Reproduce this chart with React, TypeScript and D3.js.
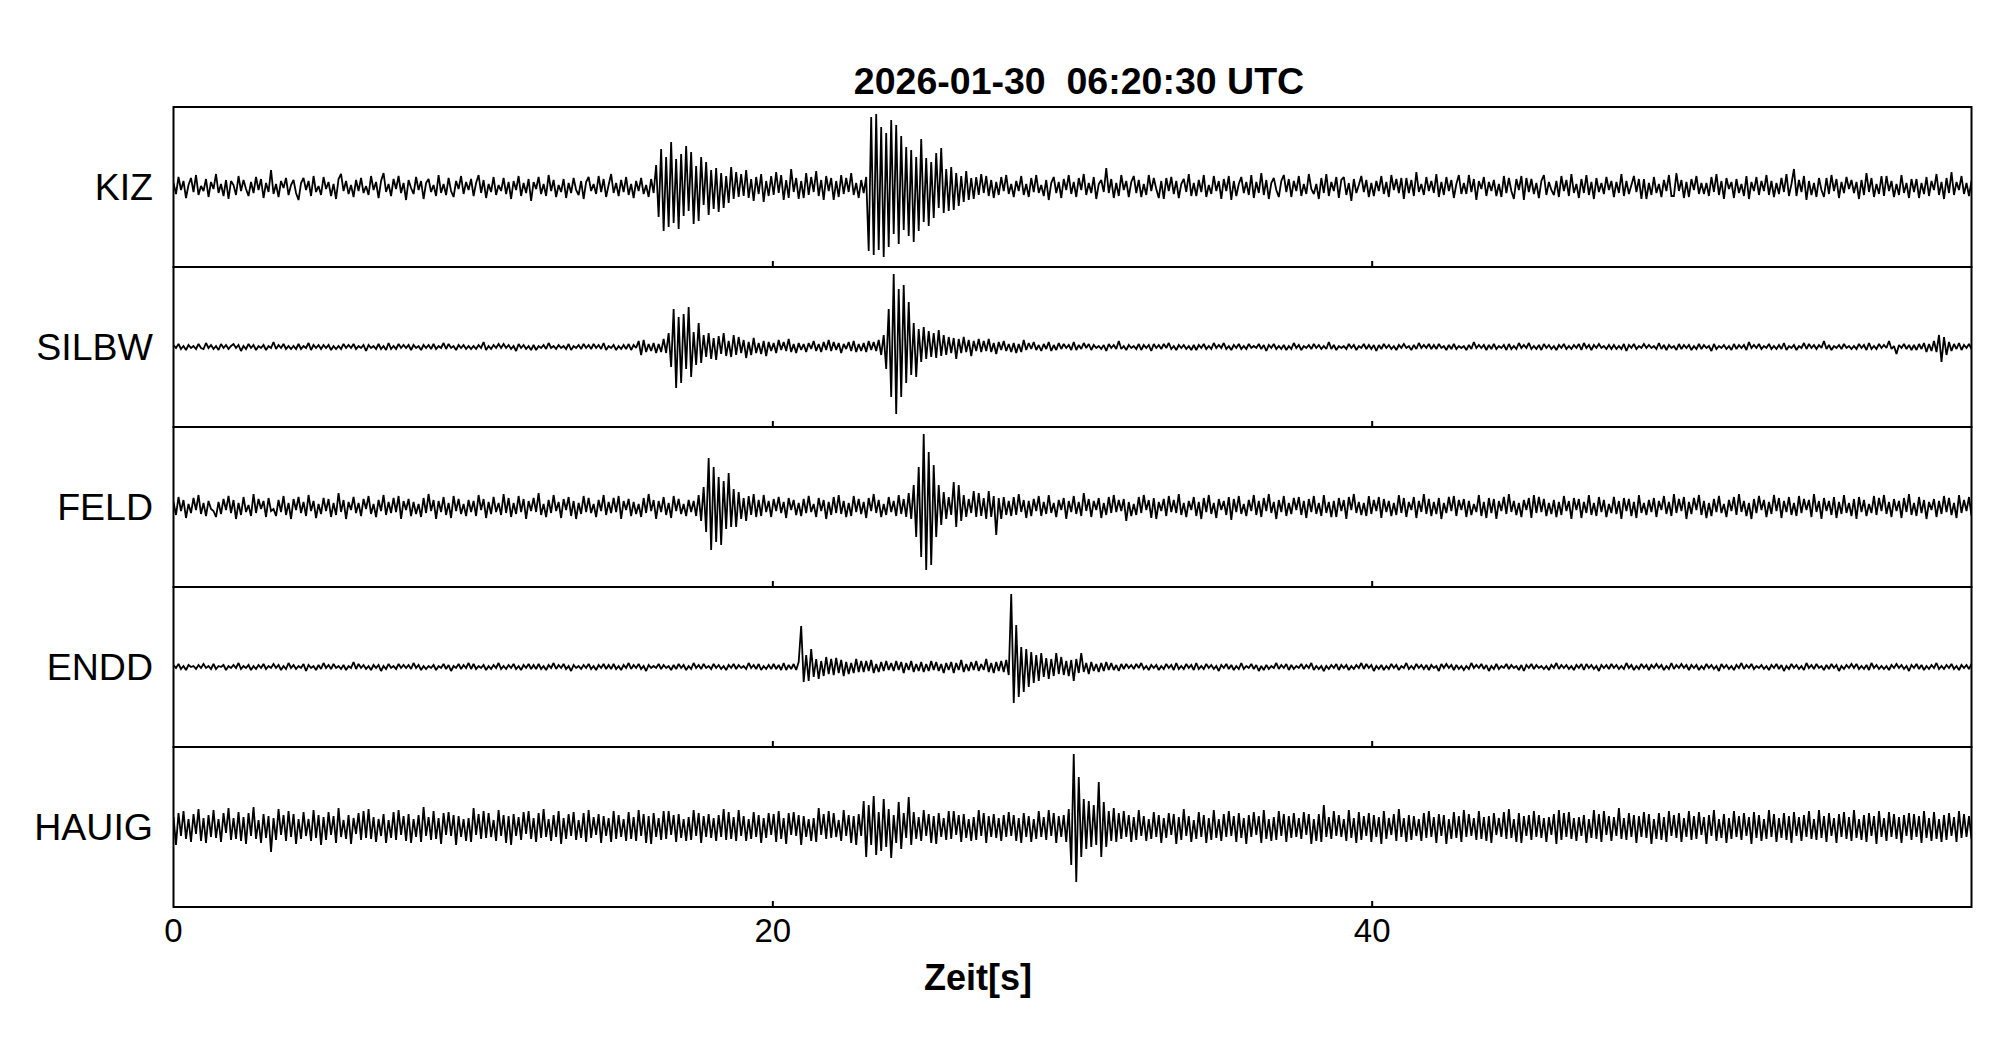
import React from 'react';
import * as d3 from 'd3';

const TITLE = '2026-01-30  06:20:30 UTC';
const X_LABEL = 'Zeit[s]';
const STATIONS = ['KIZ', 'SILBW', 'FELD', 'ENDD', 'HAUIG'];
const X_TICKS = [0, 20, 40];
const X_DOMAIN: [number, number] = [0, 60];
const AMP_DOMAIN: [number, number] = [-80, 80];

// 12 samples per second, 60 s per trace (one row = 2 s)
const KIZ = [
  4,-7,10,-3,6,-11,2,9,-5,12,-8,1, -4,8,-10,5,-2,13,-6,3,-9,7,-12,6,
  2,-8,11,-4,7,-2,-9,5,-6,10,-3,8, -11,4,-5,17,-7,3,-10,6,-1,9,-8,2,
  7,-6,-13,4,9,-3,6,-9,11,-5,1,-8, 10,-2,5,-9,3,-12,8,13,-4,6,-7,2,
  -10,7,-4,9,-6,1,-8,11,-3,5,-11,6, 14,-5,3,-9,8,-2,11,-6,4,-13,7,-1,
  -7,10,-3,6,-12,4,8,-5,2,-9,12,-6, 3,-8,9,-4,-10,6,-2,11,-7,5,-3,8,
  -9,4,12,-6,7,-11,3,-5,10,-8,2,-4, 9,-7,5,-12,6,-3,11,-9,4,-6,8,-14,
  5,-2,10,-7,3,-9,12,-4,7,-10,2,-5, 8,-11,4,-6,9,-3,-8,6,-12,5,10,-4,
  3,-7,11,-5,8,-10,2,13,-6,4,-9,7, -5,10,-8,3,-11,6,-4,9,-7,2,-10,8,
  -6,22,-30,38,-44,30,-40,45,-36,28,-42,33, -29,41,-24,35,-37,21,-34,30,-18,25,-28,17,
  -22,19,-25,14,-21,11,-16,20,-12,15,-10,13, -9,17,-11,8,-14,10,-7,13,-15,6,-9,11,
  -8,15,-6,12,-13,7,-11,18,-5,9,-12,6, -11,14,-8,10,-5,16,-9,7,-13,11,-4,9,
  -13,6,-10,12,-7,9,-5,14,-8,4,-11,7, -6,10,-64,70,-68,73,-63,60,-70,54,-60,67,
  -47,62,-57,51,-43,40,-49,37,-55,30,-44,48, -35,29,-39,25,-31,34,-21,39,-26,18,-24,20,
  -23,14,-19,11,-15,16,-13,9,-12,10,-8,13, -6,11,-9,7,-11,5,-8,10,-4,12,-7,3,
  -10,6,-4,11,-8,3,-10,9,-5,12,-6,2, -9,7,-13,4,10,-6,5,-11,8,-3,12,-7,
  5,-10,9,-3,13,-8,4,-6,10,-12,3,7, -5,19,-6,8,-11,4,-9,12,-3,6,-10,5,
  11,-6,7,-10,3,-8,12,-4,9,-2,-11,6, -12,9,-4,10,-7,6,-11,3,8,-5,13,-9,
  4,-9,7,-5,12,-10,2,-7,11,-4,6,-12, 8,-4,11,-13,6,-9,3,10,-6,5,-8,12,
  -11,5,-6,14,-8,7,-12,4,9,-3,-10,6, 12,-5,8,-10,6,-4,11,-9,3,-7,13,-2,
  -7,3,-12,9,-6,13,-9,5,-4,10,-11,7, 10,-8,4,-14,8,-6,2,11,-5,7,-10,4,
  -9,6,-4,11,-7,5,-10,12,-3,8,-6,9, -12,9,-6,7,-9,15,-5,3,-8,10,-4,6,
  -6,13,-10,5,-8,10,-4,7,-11,3,12,-7, 4,-7,12,-5,8,-13,6,-2,10,-9,5,-4,
  7,-9,3,-10,11,-6,9,-4,-12,8,-3,11, -13,9,-5,8,-7,4,-11,6,12,-8,5,-3,
  -8,6,-10,11,-4,7,-9,13,-6,3,-11,8, -6,12,-8,5,-12,9,-5,4,-7,10,-3,6,
  -10,5,-6,13,-9,6,-7,2,11,-5,8,-12, 8,-12,4,-8,10,-6,3,-10,7,-4,12,-9,
  -9,14,-4,7,-11,5,-10,8,-3,11,-7,4, -7,4,-9,10,-5,13,-8,6,-12,9,-2,5,
  -11,8,-6,3,-9,11,-12,5,-4,10,-8,6, -4,12,-8,6,-10,4,-7,9,-5,13,-9,3,
  18,-9,7,-5,11,-13,6,-8,4,-10,9,-3, -10,9,-7,12,-4,8,-11,5,-6,10,-2,7,
  -6,5,-12,7,-8,14,-5,9,-10,3,-7,11, -9,11,-4,6,-10,3,-8,12,-6,4,-11,8,
  -5,8,-11,4,-7,10,-9,6,-3,13,-8,5, -12,9,-6,15,-8,5,-3,11,-7,4,-9,6,
];

const SILBW = [
  2,-1,3,-2,1,-3,2,-1,1,-2,3,-1, -2,4,-1,2,-2,1,-3,3,-1,2,-2,1,
  3,-1,2,-4,1,-2,3,-1,2,-3,1,-1, 2,-3,1,-1,5,-2,2,-1,3,-2,1,-2,
  1,-2,3,-2,1,-1,4,-3,2,-1,2,-2, 2,-1,2,-3,1,-2,1,-2,3,-1,2,-1,
  3,-2,1,-1,2,-4,2,-1,1,-2,3,-2, 1,-3,4,-2,1,-2,3,-1,2,-1,2,-3,
  2,-1,1,-3,2,-1,2,-2,3,-2,1,-1, 4,-2,3,-1,1,-3,2,-1,2,-2,1,-2,
  1,-2,2,-1,5,-3,1,-2,2,-1,3,-1, 3,-1,2,-2,1,-4,3,-1,2,-2,1,-3,
  2,-3,1,-1,2,-2,4,-1,1,-2,2,-1, 1,-2,3,-3,1,-1,2,-2,3,-1,2,-2,
  3,-1,2,-2,4,-3,1,-1,2,-3,1,-2, 2,-2,3,-3,2,-1,6,-8,7,-5,3,-4,
  4,-6,3,-5,8,-6,14,-20,38,-41,30,-36, 33,-22,40,-30,15,-18,24,-16,12,-10,14,-12,
  9,-13,11,-7,14,-9,6,-10,12,-8,10,-6, 7,-11,5,-8,9,-6,4,-7,6,-9,5,-4,
  4,-6,7,-3,5,-4,8,-5,3,-6,4,-3, 3,-5,4,-2,6,-4,3,-5,5,-3,7,-4,
  5,-3,4,-6,3,-2,5,-4,6,-5,3,-4, 4,-5,6,-3,5,-4,7,-8,12,-22,38,-50,
  73,-67,58,-50,62,-36,45,-28,24,-30,18,-15, 20,-12,16,-10,14,-11,17,-9,12,-8,10,-6,
  9,-12,8,-6,10,-5,7,-9,6,-4,8,-5, 6,-4,8,-5,4,-7,5,-3,6,-4,3,-5,
  4,-6,3,-5,7,-3,4,-2,5,-3,2,-4, 3,-2,5,-4,2,-3,4,-2,3,-1,2,-3,
  5,-3,2,-2,4,-1,3,-3,2,-1,1,-2, 2,-4,3,-1,2,-2,6,-2,1,-3,2,-1,
  1,-2,3,-3,2,-1,2,-4,3,-1,2,-2, 3,-1,4,-2,1,-3,2,-1,2,-2,1,-3,
  2,-3,2,-1,3,-2,1,-2,4,-1,2,-1, 4,-2,1,-3,2,-1,3,-2,1,-2,3,-1,
  1,-1,3,-2,2,-4,2,-1,3,-2,1,-2, 2,-3,1,-2,4,-1,2,-3,1,-1,2,-2,
  3,-1,2,-2,1,-2,5,-2,2,-3,1,-1, 1,-2,3,-1,2,-3,1,-1,3,-2,2,-2,
  2,-4,2,-2,3,-1,2,-2,1,-3,2,-1, 3,-1,1,-3,2,-2,4,-1,2,-1,3,-2,
  2,-2,3,-1,1,-3,2,-2,3,-2,1,-1, 1,-3,2,-2,5,-1,2,-1,2,-3,2,-2,
  3,-2,1,-1,2,-3,3,-2,1,-2,4,-1, 2,-1,4,-2,1,-2,2,-3,3,-1,2,-2,
  1,-3,2,-1,3,-2,1,-2,2,-1,3,-3, 4,-1,2,-3,2,-1,3,-1,1,-2,2,-2,
  2,-2,1,-2,3,-4,2,-1,3,-2,1,-1, 3,-1,2,-1,1,-2,4,-2,2,-3,2,-1,
  1,-3,3,-2,2,-1,2,-3,1,-2,3,-2, 2,-1,1,-4,3,-2,1,-1,2,-2,1,-3,
  3,-2,2,-1,2,-3,5,-1,2,-1,3,-2, 1,-1,3,-2,1,-2,2,-2,4,-3,1,-1,
  2,-3,1,-1,4,-2,3,-1,2,-2,2,-1, 6,-2,2,-3,1,-1,2,-2,3,-1,1,-2,
  1,-2,3,-1,2,-3,4,-2,1,-2,3,-1, 2,-1,6,-2,1,-7,2,-1,3,-2,2,-3,
  2,-3,3,-2,4,-5,3,-4,6,-5,12,-15, 10,-8,5,-4,3,-2,4,-3,2,-1,3,-2,
];

const FELD = [
  5,-8,10,-4,7,-11,3,-6,9,-3,12,-7, 4,-9,6,-2,-4,-10,5,-7,8,-3,11,-6,
  7,-12,4,-8,10,-5,2,-9,13,-6,8,-2, 6,-10,9,-4,-2,-9,7,-5,11,-8,4,-12,
  8,-3,10,-6,5,-9,12,-4,6,-11,3,-7, 9,-4,8,-10,4,-8,14,-5,7,-12,5,-3,
  10,-6,4,-9,8,-2,11,-7,3,-10,7,-4, 12,-8,5,-6,9,-5,11,-12,6,-3,8,-9,
  5,-7,3,-10,9,-6,13,-4,7,-12,6,-5, 10,-8,4,-11,11,-4,8,-7,3,-9,7,-5,
  6,-9,12,-3,8,-11,5,-7,10,-5,4,-8, 13,-6,9,-10,4,-7,11,-5,8,-12,6,-4,
  9,-5,14,-8,3,-10,7,-6,12,-4,5,-11, 8,-3,10,-9,6,-12,4,-7,11,-5,9,-6,
  3,-10,7,-4,12,-8,5,-6,9,-5,11,-12, 6,-3,8,-9,5,-7,3,-10,9,-6,13,-4,
  7,-12,6,-5,10,-8,4,-11,11,-4,8,-7, 3,-9,7,-5,6,-9,12,-14,20,-25,49,-43,
  40,-35,30,-38,26,-22,34,-20,18,-20,15,-12, 9,-14,11,-8,13,-10,7,-9,12,-5,6,-10,
  8,-4,10,-6,5,-11,9,-3,7,-8,4,-9, 8,-6,11,-5,3,-10,9,-4,7,-12,5,-8,
  10,-6,12,-7,6,-10,4,-9,11,-5,8,-7, 5,-11,9,-4,13,-6,7,-10,3,-8,10,-5,
  6,-9,12,-7,8,-10,14,-12,22,-30,40,-50, 73,-63,55,-58,42,-30,22,-18,15,-12,10,-8,
  25,-20,22,-14,12,-10,8,-6,16,-10,14,-9, 9,-12,16,-10,11,-28,9,-12,10,-8,6,-9,
  10,-8,13,-5,7,-11,6,-9,8,-4,11,-9, 5,-7,12,-6,4,-10,7,-3,9,-12,6,-5,
  11,-7,5,-9,14,-4,8,-10,6,-3,9,-11, 4,-8,10,-6,12,-5,7,-4,8,-14,5,-9,
  3,-8,10,-6,12,-3,7,-11,9,-12,5,-4, 8,-9,11,-5,7,-6,13,-8,4,-10,6,-3,
  10,-9,5,-12,9,-5,12,-7,4,-11,8,-3, 6,-8,10,-13,8,-5,11,-7,3,-9,7,-4,
  12,-8,6,-10,9,-4,13,-6,5,-12,7,-5, 11,-9,4,-7,9,-3,10,-8,6,-11,8,-5,
  11,-7,4,-9,12,-6,5,-10,6,-10,9,-4, 7,-12,10,-3,13,-6,5,-8,4,-9,11,-7,
  7,-4,10,-11,8,-5,6,-9,4,-8,12,-6, 9,-10,5,-3,10,-11,6,-5,13,-7,8,-9,
  5,-7,9,-12,4,-6,10,-4,11,-9,7,-3, 8,-10,6,-8,3,-5,12,-9,5,-11,9,-6,
  8,-12,6,-4,10,-7,13,-5,6,-8,4,-10, 7,-3,9,-11,12,-6,10,-5,8,-9,4,-7,
  7,-10,5,-8,11,-4,6,-12,9,-3,8,-11, 5,-6,12,-8,4,-9,10,-5,7,-10,3,-6,
  10,-7,6,-12,9,-4,8,-9,5,-11,12,-6, 4,-8,7,-5,9,-10,6,-3,11,-7,5,-9,
  13,-6,8,-4,10,-12,5,-7,9,-3,12,-8, 6,-11,4,-9,8,-5,11,-6,3,-10,7,-4,
  10,-8,13,-5,6,-9,4,-12,8,-6,11,-3, 7,-10,5,-7,12,-4,9,-11,6,-5,10,-8,
  4,-9,11,-6,8,-3,7,-10,13,-5,6,-12, 9,-4,6,-8,10,-11,5,-7,12,-6,4,-9,
  8,-12,10,-5,7,-9,3,-6,11,-8,9,-4, 12,-7,5,-10,8,-4,6,-11,9,-5,13,-8,
  4,-9,10,-6,7,-12,5,-3,8,-10,6,-7, 11,-5,9,-8,4,-11,12,-6,7,-4,10,-9,
];

const ENDD = [
  2,-1,3,-2,1,-3,2,0,1,-2,2,-1, 3,-1,1,-2,3,-2,1,0,2,-3,1,-1,
  2,-1,4,-2,1,-1,2,-3,1,-2,2,-1, 3,-2,1,-1,3,-1,2,-3,1,-2,4,-1,
  2,-2,1,-1,3,-4,2,-1,1,-3,2,-2, 4,-1,2,-2,3,-1,1,-2,2,-3,1,-1,
  5,-2,3,-1,2,-2,1,-3,2,-1,2,-4, 1,-2,3,-1,1,-2,3,-1,2,-1,2,-2,
  4,-1,2,-3,1,-2,1,-1,2,-3,1,-1, 3,-2,2,-4,1,-1,3,-2,2,-1,4,-2,
  3,-2,1,-1,2,-3,1,-2,2,-1,4,-2, 1,-2,2,-1,3,-2,1,-3,2,-1,3,-2,
  2,-2,3,-2,1,-3,2,-1,4,-2,2,-1, 3,-2,1,-4,2,-1,1,-2,2,-1,3,-2,
  1,-3,2,-1,3,-2,2,-2,3,-2,1,-3, 2,-1,4,-2,2,-1,3,-2,1,-4,2,-1,
  1,-1,3,-2,2,-1,1,-3,2,-2,3,-1, 2,-3,1,-2,4,-1,2,-2,3,-1,1,-2,
  3,-1,2,-2,1,-3,2,-1,3,-2,2,-1, 1,-2,4,-1,2,-2,3,-3,1,-2,2,-2,
  3,-2,2,-3,4,-3,2,-2,3,-3,5,41, -15,12,-14,18,-10,8,-12,6,-9,10,-7,8,
  -8,9,-6,7,-9,5,-7,4,-6,8,-5,6, -5,6,-4,7,-6,3,-5,5,-4,6,-3,4,
  -4,6,-3,5,-6,4,-3,6,-5,3,-4,5, -5,3,-4,6,-3,5,-4,3,-6,4,-3,5,
  -6,4,-3,7,-5,3,-4,5,-3,6,-4,3, -3,8,-5,4,-6,5,-4,6,-5,7,-8,73,
  -36,42,-30,20,-25,18,-20,15,-16,12,-14,14, -10,9,-12,8,-9,14,-7,10,-8,6,-9,7,
  -14,8,-6,14,-5,4,-7,5,-4,3,-5,4, -4,5,-3,4,-3,2,-4,3,-2,3,-1,2,
  -2,3,-1,4,-2,1,-3,2,-1,2,-3,1, -2,3,-1,2,-3,4,-2,1,-2,3,-1,2,
  -3,4,-2,1,-2,3,-1,2,-2,1,-4,2, -1,3,-2,2,-3,1,-2,4,-2,1,-1,3,
  -2,2,-4,1,-3,2,-2,1,-1,4,-2,2, -1,3,-3,2,-2,1,-1,3,-2,2,-1,4,
  -3,1,-2,1,-4,1,-2,2,-1,3,-3,2, -1,2,-3,1,-2,2,-1,4,-2,3,-1,2,
  -4,1,-2,2,-3,1,-2,3,-1,2,-3,1, -1,4,-2,1,-2,3,-1,2,-2,2,-3,2,
  -1,1,-4,3,-1,3,-1,2,-3,2,-2,1, -3,1,-2,4,-1,2,-1,3,-2,2,-4,1,
  -2,3,-2,1,-1,3,-2,2,-1,1,-3,2, -4,2,-1,3,-2,2,-1,1,-2,1,-3,2,
  -1,4,-2,2,-1,2,-2,1,-3,2,-1,3, -3,3,-1,2,-2,1,-4,2,-1,2,-2,3,
  -1,2,-2,1,-2,4,-1,2,-3,1,-2,3, -1,2,-3,2,-1,3,-1,2,-3,1,-2,4,
  -2,2,-1,3,-1,2,-3,2,-1,2,-3,1, -2,3,-1,2,-2,1,-4,3,-1,2,-2,1,
  -3,2,-1,4,-2,2,-1,3,-2,1,-1,2, -2,1,-3,2,-1,3,-2,2,-4,1,-2,3,
  -1,2,-2,1,-3,4,-1,2,-2,3,-1,1, -3,2,-2,3,-1,2,-4,1,-2,2,-1,3,
  -1,3,-2,1,-2,2,-3,4,-1,2,-2,1, -2,1,-3,2,-1,3,-1,2,-2,1,-4,2,
  -1,3,-2,2,-3,1,-2,2,-1,4,-2,1, -2,2,-1,3,-2,1,-3,2,-1,2,-2,3,
];

const HAUIG = [
  10,-18,14,-9,16,-12,8,-15,13,-7,18,-14, 9,-16,12,-10,17,-11,8,-15,14,-6,19,-13,
  9,-12,15,-14,10,-17,14,-9,20,-12,7,-16, 13,-11,11,-25,9,-13,18,-8,12,-14,16,-10,
  13,-17,8,-12,15,-9,8,-14,17,-11,12,-18, 10,-13,15,-8,11,-16,19,-10,7,-12,12,-17,
  9,-7,14,-13,16,-11,18,-12,10,-15,8,-9, 13,-16,7,-11,15,-13,17,-8,11,-14,13,-16,
  8,-10,12,-15,20,-9,10,-13,16,-12,9,-17, 14,-8,15,-9,12,-18,11,-10,8,-14,9,-15,
  19,-8,13,-12,16,-11,14,-10,7,-14,17,-9, 12,-16,11,-18,13,-9,10,-13,15,-7,16,-12,
  9,-15,14,-11,18,-10,8,-14,12,-10,16,-17, 9,-12,13,-9,15,-13,7,-11,14,-15,17,-11,
  10,-8,13,-16,11,-9,9,-15,16,-12,12,-10, 8,-14,15,-12,10,-14,17,-9,13,-16,11,-17,
  14,-10,9,-13,16,-12,16,-8,12,-15,13,-11, 8,-14,10,-13,17,-9,14,-16,11,-10,13,-11,
  9,-14,12,-10,18,-13,15,-12,10,-14,17,-9, 11,-14,8,-12,15,-10,12,-16,9,-11,14,-8,
  13,-15,16,-12,9,-17,14,-8,15,-9,12,-18, 11,-10,8,-14,9,-15,19,-8,13,-12,16,-11,
  14,-10,7,-14,17,-9,12,-16,11,-18,13,-9, 26,-30,22,-18,31,-28,15,-24,28,-20,18,-31,
  12,-16,25,-22,14,-11,30,-18,15,-12,10,-14, 17,-9,13,-16,11,-17,14,-10,9,-13,16,-12,
  16,-8,12,-15,13,-11,8,-14,10,-13,17,-9, 14,-16,11,-10,13,-11,9,-14,12,-10,15,-9,
  12,-14,9,-16,14,-10,11,-15,8,-12,16,-10, 10,-13,17,-9,14,-16,11,-10,12,-15,18,-38,
  73,-55,50,-30,28,-22,26,-20,22,-18,45,-30, 25,-20,16,-14,19,-15,14,-12,16,-10,12,-15,
  10,-13,17,-9,11,-14,8,-12,15,-10,12,-16, 9,-11,14,-8,13,-17,10,-13,18,-9,11,-15,
  7,-12,15,-10,12,-16,9,-13,17,-11,8,-14, 13,-10,16,-9,11,-15,14,-11,9,-17,12,-10,
  15,-8,11,-16,17,-12,8,-14,10,-13,16,-9, 13,-15,11,-11,14,-10,9,-12,15,-8,13,-17,
  8,-14,13,-15,22,-10,10,-12,16,-9,12,-10, 8,-14,17,-11,9,-16,15,-13,11,-9,14,-15,
  12,-10,10,-17,16,-12,9,-8,13,-14,18,-10, 9,-15,12,-13,11,-9,8,-14,14,-11,16,-10,
  10,-16,13,-9,12,-17,8,-12,15,-11,11,-15, 17,-10,13,-9,9,-13,16,-12,10,-14,11,-16,
  14,-8,9,-10,15,-12,18,-11,8,-15,14,-16, 11,-9,12,-13,16,-10,12,-11,9,-15,10,-8,
  13,-17,17,-13,14,-10,15,-12,9,-14,10,-9, 12,-16,8,-11,17,-12,13,-15,16,-8,11,-14,
  10,-9,19,-12,9,-13,14,-10,12,-16,11,-10, 15,-11,13,-17,8,-12,14,-13,10,-15,16,-9,
  12,-11,14,-15,9,-10,16,-13,11,-12,15,-8, 10,-17,12,-9,17,-14,8,-11,13,-16,9,-12,
  16,-10,11,-13,14,-9,10,-17,15,-11,12,-14, 8,-12,17,-10,13,-15,9,-11,14,-13,11,-16,
  15,-9,10,-14,12,-10,16,-12,8,-13,17,-11, 11,-15,14,-9,9,-16,13,-10,15,-12,10,-14,
  17,-11,8,-13,12,-15,14,-9,11,-17,16,-10, 9,-14,15,-10,13,-12,10,-16,12,-9,14,-13,
  13,-10,11,-16,16,-11,9,-14,15,-12,8,-15, 12,-13,14,-9,10,-15,16,-11,13,-10,11,-12,
];

const TRACES = [KIZ, SILBW, FELD, ENDD, HAUIG];

const W = 2005;
const H = 1041;
const LEFT = 173.5;
const RIGHT = 1971.5;
const TOP = 107;
const PANEL_H = 160;
const FONT = '"Liberation Sans", Arial, Helvetica, sans-serif';

export default function App() {
  const x = d3.scaleLinear().domain(X_DOMAIN).range([LEFT, RIGHT]);

  return (
    <svg width={W} height={H} style={{ position: 'fixed', left: 0, top: 0, background: '#fff' }}>
      <rect x={0} y={0} width={W} height={H} fill="#fff" />
      <text x={1079} y={94} textAnchor="middle" fontFamily={FONT} fontWeight="bold" fontSize={37.5}
        style={{ whiteSpace: 'pre' }}>{TITLE}</text>
      <defs>
        {STATIONS.map((s, i) => (
          <clipPath id={`clip-${i}`} key={s}>
            <rect x={LEFT} y={TOP + i * PANEL_H} width={RIGHT - LEFT} height={PANEL_H} />
          </clipPath>
        ))}
      </defs>
      {STATIONS.map((s, i) => {
        const pTop = TOP + i * PANEL_H;
        const pBot = pTop + PANEL_H;
        const y = d3.scaleLinear().domain(AMP_DOMAIN).range([pBot, pTop]);
        const data = TRACES[i];
        const n = data.length;
        const line = d3.line<number>()
          .x((_, k) => x((k * X_DOMAIN[1]) / (n - 1)))
          .y((d) => y(d));
        return (
          <g key={s}>
            <g clipPath={`url(#clip-${i})`}>
              <path d={line(data) || ''} fill="none" stroke="#000" strokeWidth={1.8} strokeLinejoin="miter" strokeMiterlimit={2} />
            </g>
            <rect x={LEFT} y={pTop} width={RIGHT - LEFT} height={PANEL_H} fill="none" stroke="#000" strokeWidth={2} />
            {X_TICKS.filter((t) => t > X_DOMAIN[0]).map((t) => (
              <line key={t} x1={x(t)} x2={x(t)} y1={pBot} y2={pBot - 6} stroke="#000" strokeWidth={2} />
            ))}
            <text x={153} y={(pTop + pBot) / 2 + 13} textAnchor="end" fontFamily={FONT} fontSize={37.5}>{s}</text>
          </g>
        );
      })}
      {X_TICKS.map((t) => (
        <text key={t} x={x(t)} y={942} textAnchor="middle" fontFamily={FONT} fontSize={33}>{t}</text>
      ))}
      <text x={978} y={990} textAnchor="middle" fontFamily={FONT} fontWeight="bold" fontSize={36}>{X_LABEL}</text>
    </svg>
  );
}
